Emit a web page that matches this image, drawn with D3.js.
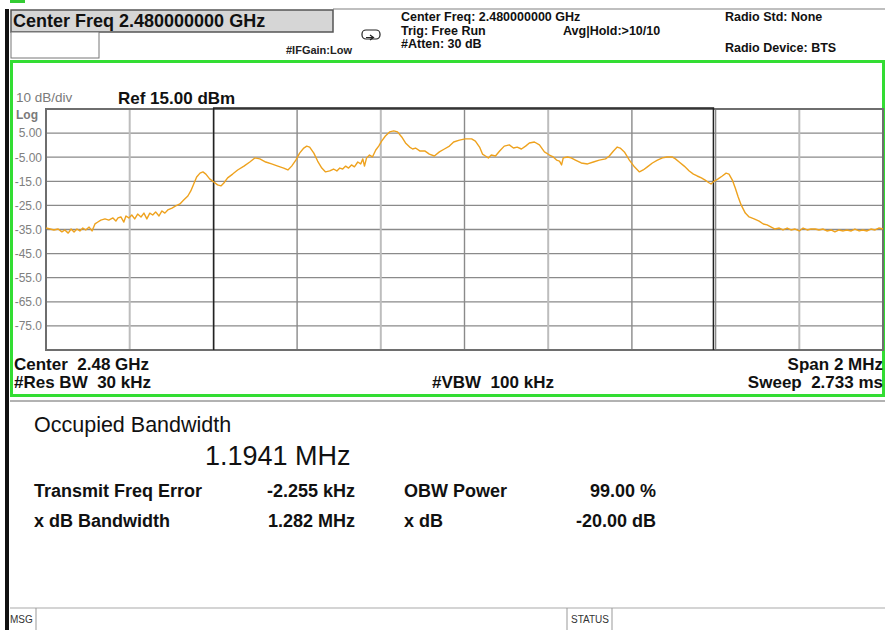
<!DOCTYPE html>
<html><head><meta charset="utf-8">
<script src="https://cdn.jsdelivr.net/npm/d3@7"></script>
<style>
html,body{margin:0;padding:0;background:#fff;}
svg{display:block;font-family:"Liberation Sans",Arial,sans-serif;}
text{white-space:pre;}
</style></head>
<body><svg id="c" width="885" height="630"></svg>
<script>
// ---- data ----
const freqKHz = [-1000,-990,-981,-971,-962,-955,-947,-940,-933,-926,-919,-912,-905,-897,-890,-883,-876,-869,-859,-850,-840,-833,-828,-821,-814,-809,-802,-795,-788,-781,-773,-766,-759,-752,-745,-738,-730,-723,-716,-709,-699,-690,-680,-671,-661,-654,-647,-640,-632,-625,-618,-609,-599,-590,-582,-575,-566,-554,-542,-527,-513,-501,-489,-475,-461,-446,-432,-422,-413,-403,-394,-384,-377,-370,-360,-351,-341,-332,-322,-313,-305,-298,-291,-284,-277,-270,-263,-255,-248,-243,-239,-234,-227,-220,-212,-205,-198,-189,-179,-169,-160,-150,-141,-131,-124,-117,-107,-95,-84,-72,-60,-48,-36,-26,-12,2,17,26,36,43,50,57,64,74,84,95,107,117,126,136,146,155,167,179,191,203,212,220,227,232,236,246,255,265,279,294,308,322,337,346,356,365,372,382,394,406,418,427,437,449,461,473,484,496,504,513,525,537,547,556,566,575,585,589,597,606,616,625,632,640,647,654,661,671,680,692,704,714,723,733,742,752,761,771,780,790,800,809,819,828,838,847,857,866,876,885,895,905,914,924,933,943,952,962,971,981,990,1000];
const levelDbm = [-34.4,-34.8,-35.2,-34.8,-36.0,-35.2,-36.5,-34.8,-36.0,-34.8,-35.6,-34.4,-35.2,-34.0,-35.6,-32.7,-31.9,-31.1,-30.6,-31.1,-30.2,-31.5,-30.2,-29.8,-31.9,-29.4,-30.2,-29.0,-30.6,-28.6,-29.8,-28.2,-30.6,-28.2,-29.0,-27.7,-29.4,-27.3,-28.2,-26.9,-26.1,-25.2,-24.4,-22.8,-21.1,-19.0,-16.1,-13.2,-11.6,-11.1,-12.0,-14.0,-15.3,-16.5,-16.9,-15.7,-13.6,-12.0,-10.3,-8.7,-7.0,-5.3,-5.7,-7.0,-7.8,-8.7,-9.5,-10.3,-8.7,-6.2,-3.3,-1.2,-0.4,-0.8,-3.3,-6.6,-9.5,-11.1,-10.7,-9.9,-10.7,-9.5,-9.9,-8.7,-9.5,-8.2,-9.0,-7.0,-7.8,-5.7,-8.7,-5.3,-4.1,-4.9,-2.0,-0.4,1.7,3.8,5.5,5.9,5.5,3.4,0.9,-0.8,-1.6,-1.2,-2.4,-2.4,-3.7,-4.5,-2.8,-1.6,-0.4,1.3,2.1,2.6,2.6,1.7,-0.8,-3.7,-4.5,-5.3,-4.1,-4.5,-2.4,-0.4,0.1,-1.2,-0.8,-1.6,-0.4,0.9,1.3,0.1,-2.8,-4.1,-4.9,-6.2,-6.6,-8.2,-5.3,-4.9,-5.3,-6.2,-7.4,-7.8,-7.0,-6.2,-5.7,-4.5,-2.4,-0.8,-1.2,-2.8,-6.2,-9.0,-11.1,-10.3,-9.0,-7.4,-6.2,-5.3,-4.9,-4.9,-5.7,-7.0,-8.7,-10.7,-12.0,-12.8,-13.6,-14.5,-15.7,-16.1,-14.9,-14.0,-12.8,-11.6,-12.0,-14.5,-17.8,-21.5,-24.8,-28.2,-29.8,-30.6,-31.5,-32.7,-33.1,-34.0,-34.8,-34.4,-35.2,-34.4,-35.2,-34.8,-35.6,-34.4,-35.2,-34.8,-34.8,-35.2,-34.8,-35.6,-35.2,-36.0,-35.2,-35.6,-35.2,-35.6,-34.8,-35.6,-35.2,-35.6,-34.8,-35.2,-34.4,-34.8];
const yTickValues = [5,-5,-15,-25,-35,-45,-55,-65,-75];
const yTickLabels = ["5.00","-5.00","-15.0","-25.0","-35.0","-45.0","-55.0","-65.0","-75.0"];
const xGridKHz = [-1000,-800,-600,-400,-200,0,200,400,600,800,1000];
const obwCenterKHz = -2.255, obwWidthKHz = 1194.1;
const headerRight = [
  ["Center Freq: 2.480000000 GHz", 401, 21],
  ["Trig: Free Run", 401, 35],
  ["#Atten: 30 dB", 401, 48],
  ["Avg|Hold:>10/10", 563, 35],
  ["Radio Std: None", 725, 21],
  ["Radio Device: BTS", 725, 52]
];
const resultRows = [
  ["Transmit Freq Error", "-2.255 kHz", "OBW Power", "99.00 %"],
  ["x dB Bandwidth", "1.282 MHz", "x dB", "-20.00 dB"]
];

const svg = d3.select("#c");
const L = 46, R = 883, T = 109, B = 350;
const x = d3.scaleLinear().domain([-1000, 1000]).range([L, R]);
const y = d3.scaleLinear().domain([-85, 15]).range([B, T]);

// left black bar
svg.append("rect").attr("x",5).attr("y",9).attr("width",4).attr("height",621).attr("fill","#111");
// top green stub
svg.append("rect").attr("x",10).attr("y",0).attr("width",15).attr("height",3).attr("fill","#3c3");
// top gray line
svg.append("line").attr("x1",333).attr("x2",885).attr("y1",9).attr("y2",9).attr("stroke","#aaa").attr("stroke-width",1.5);

// header boxes
svg.append("rect").attr("x",11).attr("y",10).attr("width",322).attr("height",22)
  .attr("fill","#d6d6d6").attr("stroke","#555").attr("stroke-width",1.5);
svg.append("text").attr("x",13).attr("y",27).attr("font-size",18).attr("font-weight","bold").attr("fill","#111")
  .text("Center Freq 2.480000000 GHz");
svg.append("rect").attr("x",11).attr("y",32).attr("width",88).attr("height",26)
  .attr("fill","#fff").attr("stroke","#777").attr("stroke-width",1);
svg.append("text").attr("x",286).attr("y",54).attr("font-size",11).attr("font-weight","bold").attr("fill","#222")
  .text("#IFGain:Low");
// icon
svg.append("rect").attr("x",362).attr("y",30).attr("width",18).attr("height",9).attr("rx",4)
  .attr("fill","#fff").attr("stroke","#222").attr("stroke-width",1.2);
svg.append("path").attr("d","M366,37.5 L373,37.5 M370,35 L373.5,37.5 L370,40").attr("stroke","#222").attr("fill","none").attr("stroke-width",1.2);
svg.selectAll("text.hr").data(headerRight).join("text").attr("class","hr")
  .attr("x",d=>d[1]).attr("y",d=>d[2]).attr("font-size",12.5).attr("font-weight","bold").attr("fill","#111")
  .text(d=>d[0]);

// green frame
svg.append("rect").attr("x",11.5).attr("y",61.5).attr("width",872).attr("height",334)
  .attr("fill","none").attr("stroke","#33dd33").attr("stroke-width",3);

// labels above plot
svg.append("text").attr("x",16).attr("y",102).attr("font-size",13.5).attr("fill","#7a7a7a").text("10 dB/div");
svg.append("text").attr("x",16).attr("y",119).attr("font-size",12).attr("font-weight","bold").attr("fill","#7a7a7a").text("Log");
svg.append("text").attr("x",118).attr("y",104).attr("font-size",17).attr("font-weight","bold").attr("fill","#111").text("Ref 15.00 dBm");

// grid
const g = svg.append("g");
g.selectAll("line.hg").data(yTickValues).join("line").attr("class","hg")
  .attr("x1",L).attr("x2",R).attr("y1",d=>y(d)).attr("y2",d=>y(d))
  .attr("stroke","#8a8a8a").attr("stroke-width",1.3);
const lightIdx = [1,4,6,9];
g.selectAll("line.vg").data(xGridKHz.slice(1,-1)).join("line").attr("class","vg")
  .attr("x1",d=>x(d)).attr("x2",d=>x(d)).attr("y1",T).attr("y2",B)
  .attr("stroke",(d,i)=>lightIdx.includes(i+1)?"#bdbdbd":"#8a8a8a")
  .attr("stroke-width",(d,i)=>lightIdx.includes(i+1)?2:1.4);
g.append("rect").attr("x",L).attr("y",T).attr("width",R-L).attr("height",B-T)
  .attr("fill","none").attr("stroke","#6e6e6e").attr("stroke-width",2);

// y axis labels
const yAxis = d3.axisLeft(y).tickValues(yTickValues).tickFormat((d,i)=>yTickLabels[i]).tickSize(0).tickPadding(4);
const ya = svg.append("g").attr("transform",`translate(${L},0)`).call(yAxis);
ya.select(".domain").remove();
ya.selectAll("text").attr("font-size",12).attr("fill","#808080").attr("font-family","'Liberation Sans',Arial,sans-serif");

// OBW markers
const xa = x(obwCenterKHz - obwWidthKHz/2), xb = x(obwCenterKHz + obwWidthKHz/2);
svg.append("path").attr("d",`M${xa},${B} L${xa},${T-1} L${xb},${T-1} L${xb},${B}`)
  .attr("fill","none").attr("stroke","#222").attr("stroke-width",1.5);

// trace
const line = d3.line().x((d,i)=>x(freqKHz[i])).y(d=>y(d));
svg.append("path").datum(levelDbm).attr("d",line).attr("fill","none")
  .attr("stroke","#eea21e").attr("stroke-width",1.4).attr("stroke-linejoin","round");

// texts below plot
function bt(t,xx,yy,anchor){svg.append("text").attr("x",xx).attr("y",yy).attr("text-anchor",anchor)
  .attr("font-size",17).attr("font-weight","bold").attr("fill","#111").text(t);}
bt("Center  2.48 GHz",14,370,"start");
bt("Span 2 MHz",883,370,"end");
bt("#Res BW  30 kHz",14,388,"start");
bt("#VBW  100 kHz",493,388,"middle");
bt("Sweep  2.733 ms",883,388,"end");

// result panel
svg.append("line").attr("x1",10).attr("x2",885).attr("y1",401).attr("y2",401).attr("stroke","#999").attr("stroke-width",1.5);
svg.append("text").attr("x",34).attr("y",432).attr("font-size",21.5).attr("fill","#111").text("Occupied Bandwidth");
svg.append("text").attr("x",205).attr("y",465).attr("font-size",27).attr("fill","#111").text("1.1941 MHz");
const rowY = [497, 527];
resultRows.forEach((r,i)=>{
  const yy = rowY[i];
  const add=(t,xx,a)=>svg.append("text").attr("x",xx).attr("y",yy).attr("text-anchor",a)
    .attr("font-size",18).attr("font-weight","bold").attr("fill","#111").text(t);
  add(r[0],34,"start"); add(r[1],355,"end"); add(r[2],404,"start"); add(r[3],656,"end");
});

// status bar
svg.append("line").attr("x1",10).attr("x2",885).attr("y1",608).attr("y2",608).attr("stroke","#aaa").attr("stroke-width",1.2);
[36,567,612].forEach(v=>svg.append("line").attr("x1",v).attr("x2",v).attr("y1",608).attr("y2",630).attr("stroke","#999"));
svg.append("text").attr("x",10).attr("y",623).attr("font-size",10).attr("fill","#333").text("MSG");
svg.append("text").attr("x",571).attr("y",623).attr("font-size",10).attr("fill","#333").text("STATUS");
</script></body></html>
